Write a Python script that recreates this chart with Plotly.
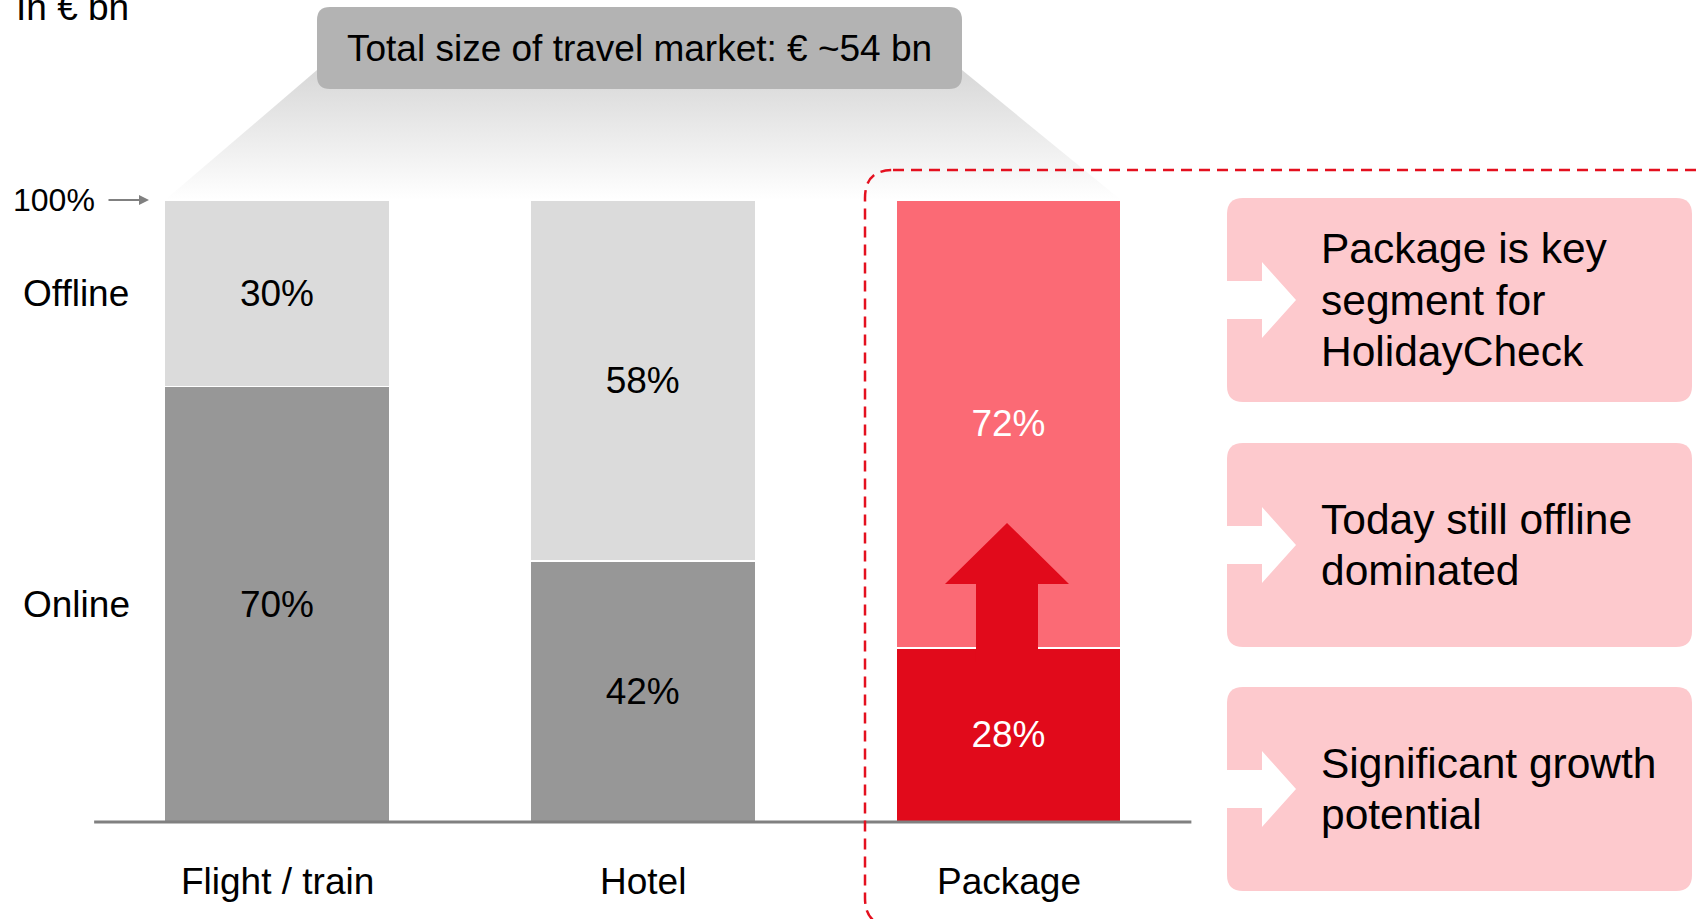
import plotly.graph_objects as go

W, H = 1702, 919

# ---- data -------------------------------------------------------------
categories = ["Flight / train", "Hotel", "Package"]
online_share = [70, 42, 28]
offline_share = [30, 58, 72]
online_colors = ["#979797", "#979797", "#e10a1b"]
offline_colors = ["#dbdbdb", "#dbdbdb", "#fb6a75"]
online_text_colors = ["#000000", "#000000", "#ffffff"]
offline_text_colors = ["#000000", "#000000", "#ffffff"]
segment_labels = ["Online", "Offline"]
unit_label = "In € bn"
total_label = "Total size of travel market: € ~54 bn"
full_label = "100%"
callouts = [
    ["Package is key", "segment for", "HolidayCheck"],
    ["Today still offline", "dominated"],
    ["Significant growth", "potential"],
]

FONT = "Arial, 'Liberation Sans', Helvetica, sans-serif"
LABEL_SIZE = 37
CALLOUT_SIZE = 42.5

# ---- geometry of the bar area (pixels) ---------------------------------
BASE_Y = 822      # 0 % baseline
TOP_Y = 200       # 100 %
X_FIRST = 277     # centre of the first bar
X_STEP = 365.75   # distance between bar centres
BAR_W = 225

px_per_pct = (BASE_Y - TOP_Y) / 100
y_range = [(BASE_Y - H) / px_per_pct, BASE_Y / px_per_pct]
x_range = [-X_FIRST / X_STEP, (W - X_FIRST) / X_STEP]


def fx(x):
    return x / W


def fy(y):
    return 1 - y / H


def pt(x, y):
    return f"{fx(x):.5f},{fy(y):.5f}"


def polygon(points):
    head, *rest = points
    return f"M {pt(*head)} " + " ".join(f"L {pt(*p)}" for p in rest) + " Z"


def rounded_rect(x0, y0, x1, y1, r):
    return (
        f"M {pt(x0 + r, y0)} L {pt(x1 - r, y0)} Q {pt(x1, y0)} {pt(x1, y0 + r)} "
        f"L {pt(x1, y1 - r)} Q {pt(x1, y1)} {pt(x1 - r, y1)} "
        f"L {pt(x0 + r, y1)} Q {pt(x0, y1)} {pt(x0, y1 - r)} "
        f"L {pt(x0, y0 + r)} Q {pt(x0, y0)} {pt(x0 + r, y0)} Z"
    )


fig = go.Figure()

# grey funnel from the total box down to the bar tops
fig.add_trace(go.Scatter(
    x=[165, 317, 962, 1121, 165],
    y=[H - TOP_Y, H - 70, H - 70, H - TOP_Y, H - TOP_Y],
    xaxis="x2", yaxis="y2",
    mode="lines", line=dict(width=0, color="rgba(0,0,0,0)"),
    fill="toself",
    fillgradient=dict(type="vertical", start=H - TOP_Y, stop=H - 75,
                      colorscale=[[0, "#ffffff"], [1, "#d9d9d9"]]),
    hoverinfo="skip", showlegend=False,
))

# stacked bars
fig.add_trace(go.Bar(
    x=categories, y=online_share, name=segment_labels[0],
    marker=dict(color=online_colors, line=dict(color="#ffffff", width=1.5)),
    text=[f"{v}%" for v in online_share],
    textposition="inside", insidetextanchor="middle", textangle=0,
    constraintext="none",
    textfont=dict(family=FONT, size=LABEL_SIZE, color=online_text_colors),
    hoverinfo="skip",
))
fig.add_trace(go.Bar(
    x=categories, y=offline_share, name=segment_labels[1],
    marker=dict(color=offline_colors, line=dict(color="#ffffff", width=1.5)),
    text=[f"{v}%" for v in offline_share],
    textposition="inside", insidetextanchor="middle", textangle=0,
    constraintext="none",
    textfont=dict(family=FONT, size=LABEL_SIZE, color=offline_text_colors),
    hoverinfo="skip",
))

shapes = []

# baseline under the bars
shapes.append(dict(type="line", xref="x", yref="y", x0=-0.5, x1=2.5, y0=0, y1=0,
                   line=dict(color="#808080", width=3), layer="above"))

# total-size box
shapes.append(dict(type="path", xref="paper", yref="paper",
                   path=rounded_rect(317, 7, 962, 89, 13),
                   fillcolor="#b3b3b3", line=dict(width=0), layer="above"))

# dashed frame around the package bar and callouts
shapes.append(dict(type="path", xref="paper", yref="paper",
                   path=rounded_rect(865, 170, 1730, 926, 28),
                   fillcolor="rgba(0,0,0,0)",
                   line=dict(color="#e4101f", width=2.5, dash="11px,7px"),
                   layer="above"))

# growth arrow in the package bar
ac = 1007
shapes.append(dict(type="path", xref="paper", yref="paper",
                   path=polygon([
                       (ac, 523), (ac + 62, 584), (ac + 31, 584), (ac + 31, 662),
                       (ac - 31, 662), (ac - 31, 584), (ac - 62, 584),
                   ]),
                   fillcolor=online_colors[2], line=dict(width=0), layer="above"))

# callout boxes with white arrows
BOX_X0, BOX_X1 = 1227, 1692
box_spans = [(198, 402), (443, 647), (687, 891)]
annotations = []
for lines, (b0, b1) in zip(callouts, box_spans):
    shapes.append(dict(type="path", xref="paper", yref="paper",
                       path=rounded_rect(BOX_X0, b0, BOX_X1, b1, 16),
                       fillcolor="#fdc9cd", line=dict(width=0), layer="above"))
    cy = (b0 + b1) / 2
    shapes.append(dict(type="path", xref="paper", yref="paper",
                       path=polygon([
                           (BOX_X0, cy - 19), (1262, cy - 19), (1262, cy - 38),
                           (1296, cy), (1262, cy + 38), (1262, cy + 19),
                           (BOX_X0, cy + 19),
                       ]),
                       fillcolor="#ffffff", line=dict(width=0), layer="above"))
    n = len(lines)
    for i, line in enumerate(lines):
        ly = cy + (i - (n - 1) / 2) * 51
        annotations.append(dict(text=line, xref="paper", yref="paper",
                                x=fx(1319), y=fy(ly), xanchor="left", yanchor="middle",
                                showarrow=False,
                                font=dict(family=FONT, size=CALLOUT_SIZE, color="#000000")))

# category labels under the bars
for cat in categories:
    annotations.append(dict(text=cat, xref="x", yref="y", x=cat,
                            y=(BASE_Y - 881) / px_per_pct,
                            xanchor="center", yanchor="middle", showarrow=False,
                            font=dict(family=FONT, size=LABEL_SIZE, color="#000000")))

# segment names aligned with the first bar's segments
annotations.append(dict(text=segment_labels[0], xref="paper", yref="y",
                        x=fx(76), y=online_share[0] / 2,
                        xanchor="center", yanchor="middle", showarrow=False,
                        font=dict(family=FONT, size=LABEL_SIZE, color="#000000")))
annotations.append(dict(text=segment_labels[1], xref="paper", yref="y",
                        x=fx(76), y=online_share[0] + offline_share[0] / 2,
                        xanchor="center", yanchor="middle", showarrow=False,
                        font=dict(family=FONT, size=LABEL_SIZE, color="#000000")))

# 100 % marker with arrow
annotations.append(dict(text=full_label, xref="paper", yref="y",
                        x=fx(54), y=100, xanchor="center", yanchor="middle",
                        showarrow=False,
                        font=dict(family=FONT, size=32, color="#000000")))
annotations.append(dict(text="", xref="paper", yref="y", x=fx(149), y=100,
                        ax=-42, ay=0, showarrow=True, arrowhead=2, arrowsize=1,
                        arrowwidth=2, arrowcolor="#808080"))

# total-size caption and unit
annotations.append(dict(text=total_label, xref="paper", yref="paper",
                        x=fx(639), y=fy(48), xanchor="center", yanchor="middle",
                        showarrow=False,
                        font=dict(family=FONT, size=LABEL_SIZE, color="#000000")))
annotations.append(dict(text=unit_label, xref="paper", yref="paper",
                        x=fx(14), y=fy(7), xanchor="left", yanchor="middle",
                        showarrow=False,
                        font=dict(family=FONT, size=LABEL_SIZE, color="#000000")))

fig.update_layout(
    width=W, height=H,
    margin=dict(l=0, r=0, t=0, b=0, pad=0),
    paper_bgcolor="#ffffff", plot_bgcolor="rgba(0,0,0,0)",
    barmode="stack", bargap=1 - BAR_W / X_STEP,
    showlegend=False,
    xaxis=dict(type="category", range=x_range, domain=[0, 1], visible=False,
               fixedrange=True),
    yaxis=dict(range=y_range, domain=[0, 1], visible=False, fixedrange=True),
    xaxis2=dict(range=[0, W], domain=[0, 1], anchor="y2", visible=False,
                fixedrange=True),
    yaxis2=dict(range=[0, H], domain=[0, 1], anchor="x2", visible=False,
                fixedrange=True),
    shapes=shapes,
    annotations=annotations,
)

fig.write_html("out.html", config={"displayModeBar": False})
